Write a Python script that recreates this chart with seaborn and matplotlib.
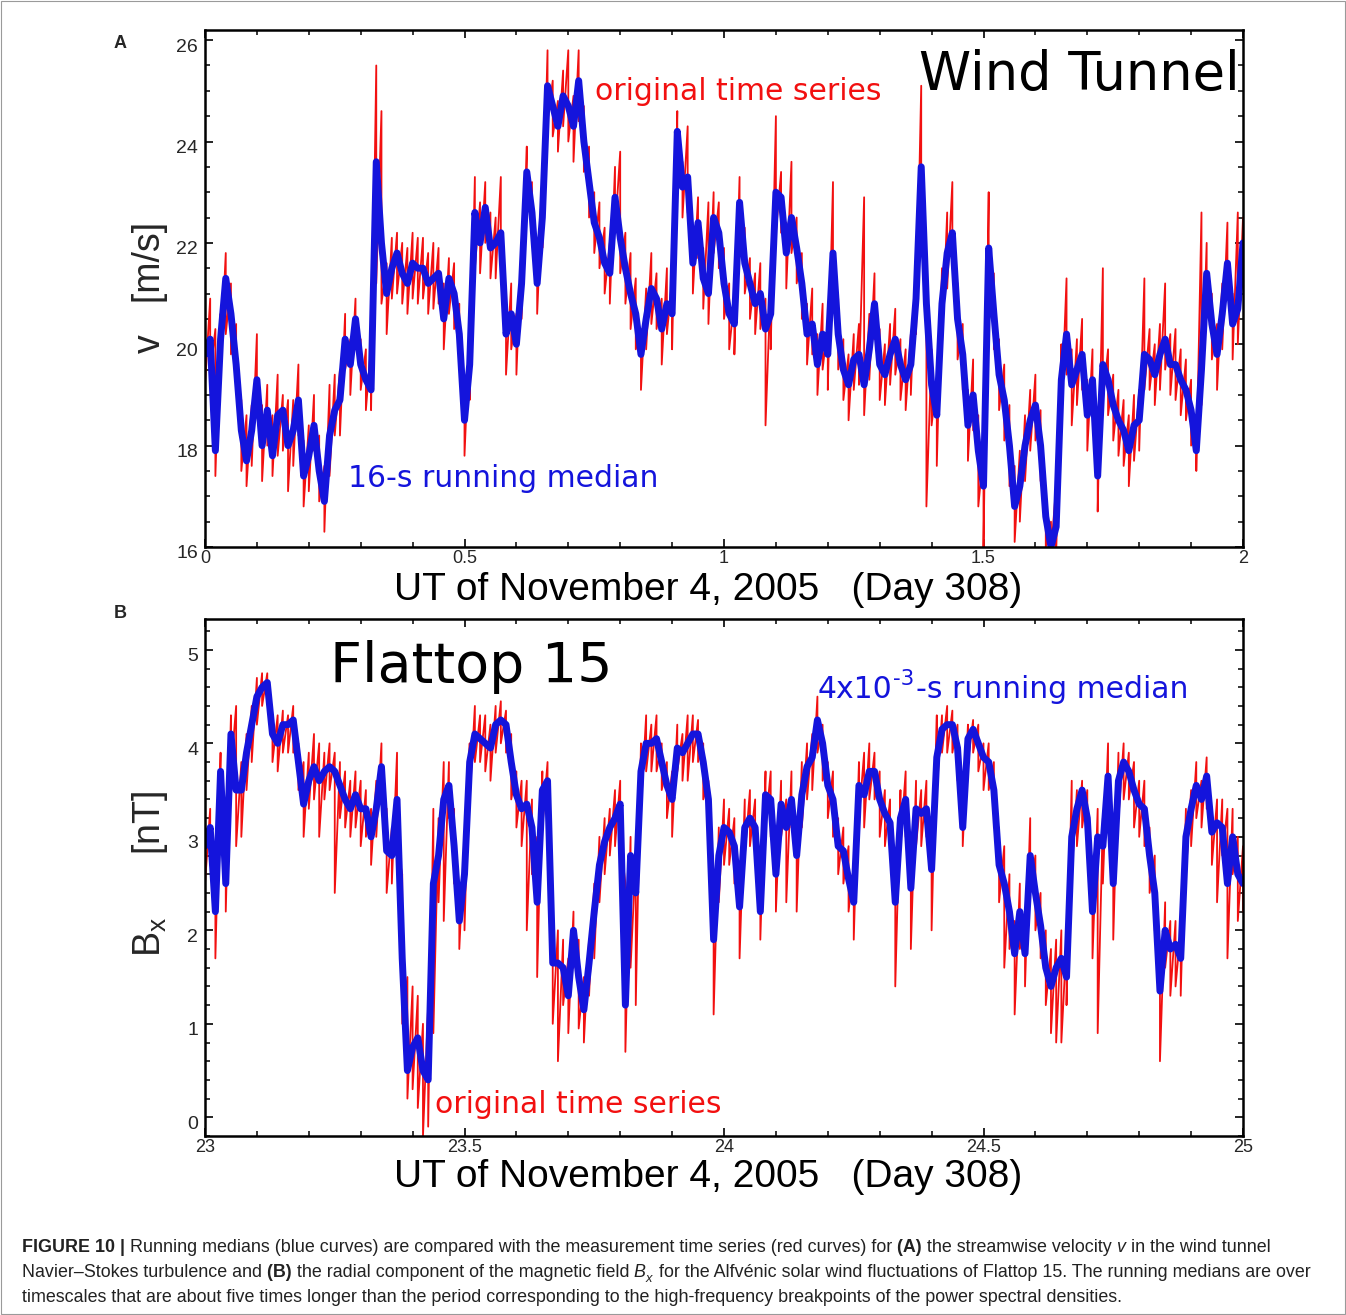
import numpy as np
import pandas as pd
import matplotlib
matplotlib.use("Agg")
import matplotlib.pyplot as plt
import seaborn as sns
from matplotlib.ticker import MultipleLocator
from matplotlib import font_manager as fm
from matplotlib.patches import Rectangle
from matplotlib.transforms import ScaledTranslation

# ---------------------------------------------------------------- data
# Panel A : wind tunnel velocity v [m/s], UT 0 .. 2, sampled every 0.01
A_T0, A_T1 = 0.0, 2.0
a_median = [19.8,20.1,17.9,20.1,21.3,20.6,19.6,18.3,17.7,18.3,
            19.3,18.0,18.7,17.8,18.6,18.7,18.0,18.3,18.9,17.4,
            17.8,18.4,17.5,16.9,18.2,18.7,18.9,20.1,19.6,20.5,
            19.6,19.3,19.1,23.6,22.0,21.0,21.5,21.8,21.4,21.2,
            21.6,21.5,21.5,21.2,21.3,21.4,20.5,21.3,21.0,20.2,
            18.5,19.6,22.6,22.0,22.7,21.9,22.0,22.2,20.2,20.6,
            20.0,21.2,23.4,22.6,21.2,22.5,25.1,24.7,24.3,24.9,
            24.7,24.3,25.2,24.0,23.2,22.4,22.1,21.6,21.4,22.9,
            22.1,21.5,21.0,20.6,19.8,20.5,21.1,20.9,20.3,20.8,
            20.6,24.2,23.1,23.3,21.6,22.4,21.3,21.0,22.5,22.2,
            21.2,20.6,20.4,22.8,21.6,21.2,20.8,21.0,20.3,20.6,
            23.0,22.9,21.8,22.5,21.9,21.2,20.2,20.4,19.6,20.2,
            19.8,21.8,20.2,19.5,19.2,19.7,19.8,19.2,19.9,20.8,
            19.6,19.4,19.8,20.1,19.6,19.3,19.6,20.9,23.5,20.8,
            19.2,18.6,20.8,21.8,22.2,20.5,19.8,18.4,19.0,17.9,
            17.2,21.9,20.6,19.4,18.9,18.0,16.8,17.2,18.0,18.5,
            18.8,18.0,16.6,16.0,16.4,19.3,20.2,19.2,19.5,19.8,
            18.6,19.3,17.4,19.6,19.3,18.8,18.5,18.3,17.9,18.4,
            18.5,19.8,19.7,19.4,19.8,20.1,19.6,19.6,19.3,19.1,
            18.7,17.9,19.5,21.4,20.4,19.8,20.6,21.6,20.4,20.7,
            22.0]
a_high = [20.5,20.9,20.3,20.6,21.8,21.2,20.4,18.9,18.6,18.8,
          20.2,18.8,19.2,18.6,19.4,19.0,18.9,18.9,19.6,18.1,
          18.4,19.0,18.2,17.6,19.2,19.4,19.5,20.6,20.1,20.9,
          20.1,19.9,20.0,25.5,24.6,21.6,22.1,22.2,22.0,21.9,
          22.2,22.1,22.1,21.8,22.0,21.9,21.2,21.7,21.6,20.8,
          19.2,20.3,23.3,22.8,23.2,22.6,22.5,23.3,20.9,21.2,
          20.6,22.0,23.9,23.2,21.9,23.0,25.8,25.2,24.8,25.4,
          25.8,24.9,25.8,24.7,23.9,23.0,22.8,22.3,22.0,23.5,
          23.8,22.2,21.8,21.3,20.3,21.1,21.8,21.4,20.9,21.5,
          21.3,24.6,23.6,24.3,22.2,22.9,21.9,22.8,23.0,22.8,
          21.9,21.2,20.9,23.3,22.3,21.7,21.4,21.6,20.9,21.2,
          24.5,23.4,22.4,23.6,22.5,21.8,20.8,21.1,20.2,20.8,
          20.4,23.2,20.9,20.1,19.8,20.2,20.4,22.9,20.6,21.4,
          20.3,20.0,20.4,20.7,20.1,19.9,20.2,21.6,25.1,21.6,
          19.9,19.3,21.5,22.6,23.2,21.2,20.4,19.1,19.7,18.6,
          17.9,23.0,21.4,20.1,19.6,18.8,17.6,17.9,18.6,19.1,
          19.4,18.7,17.2,16.5,17.2,20.0,21.3,19.9,20.1,20.5,
          19.3,19.9,18.1,21.5,19.9,19.4,19.1,18.9,18.6,19.0,
          19.1,21.3,20.3,20.0,20.4,21.2,20.2,20.3,19.9,19.7,
          19.3,18.5,22.6,22.0,21.0,20.4,21.2,22.4,21.0,22.6,
          22.5]
a_low = [19.2,19.4,17.4,19.6,20.2,19.8,19.1,17.5,17.2,17.6,
         18.6,17.3,18.0,17.4,17.8,17.9,17.1,17.6,18.2,16.8,
         17.1,17.9,16.9,16.3,17.4,18.2,18.2,19.5,19.0,19.9,
         19.1,18.7,18.7,21.2,20.8,20.2,20.9,21.0,20.8,20.6,
         20.9,20.8,20.9,20.6,20.7,20.8,19.9,20.6,20.3,19.6,
         17.8,18.9,21.5,21.4,22.0,21.3,21.3,21.6,19.4,19.9,
         19.4,20.5,22.8,22.0,20.6,21.9,24.4,24.1,23.8,24.3,
         24.0,23.6,24.4,23.4,22.5,21.8,21.5,21.0,20.8,22.2,
         21.4,20.8,20.3,19.9,19.1,19.9,20.4,20.3,19.6,20.2,
         19.9,23.3,22.5,22.6,21.0,21.7,20.7,20.4,21.8,21.5,
         20.5,19.9,19.8,22.0,21.0,20.5,20.2,20.3,18.4,19.9,
         22.2,22.2,21.1,21.8,21.2,20.5,19.6,19.8,19.0,19.5,
         19.1,21.0,19.5,18.9,18.5,19.1,19.2,18.6,19.3,20.1,
         18.9,18.8,19.2,19.4,18.9,18.7,19.0,20.2,21.8,16.8,
         18.4,17.6,20.0,21.1,21.5,19.7,19.1,17.7,18.3,16.8,
         16.0,21.0,19.9,18.7,18.1,17.2,16.1,16.5,17.3,17.9,
         18.1,17.3,16.0,15.9,15.9,18.6,19.4,18.4,18.8,19.1,
         17.9,18.6,16.7,18.9,18.6,18.1,17.8,17.6,17.2,17.7,
         17.9,19.1,19.1,18.8,19.1,19.5,19.0,18.9,18.6,18.5,
         18.0,17.5,18.8,20.7,19.7,19.1,19.9,20.9,19.7,20.0,
         21.3]

# Panel B : Flattop 15 radial field Bx [nT], UT 23 .. 25, sampled every 0.01
B_T0, B_T1 = 23.0, 25.0
b_median = [2.9,3.1,2.2,3.7,2.5,4.1,3.5,3.5,3.9,4.2,
            4.5,4.6,4.65,4.1,4.0,4.2,4.2,4.25,3.8,3.35,
            3.6,3.75,3.6,3.7,3.75,3.7,3.55,3.4,3.3,3.45,
            3.3,3.3,3.0,3.3,3.75,2.85,2.8,3.4,1.7,0.5,
            0.75,0.85,0.5,0.4,2.5,2.8,3.4,3.55,2.9,2.1,
            2.6,3.8,4.1,4.05,4.0,3.95,4.2,4.25,4.2,3.8,
            3.45,3.3,3.35,3.1,2.3,3.5,3.6,1.65,1.65,1.6,
            1.3,2.0,1.5,1.15,1.65,2.2,2.7,2.95,3.1,3.2,
            3.35,1.2,2.8,2.4,3.7,4.0,4.0,4.05,3.8,3.55,
            3.4,3.95,3.9,4.0,4.1,4.1,3.8,3.4,1.9,2.8,
            3.1,3.05,2.9,2.25,3.1,3.2,3.1,2.2,3.45,3.4,
            2.6,3.35,3.1,3.4,2.8,3.45,3.75,3.85,4.25,4.0,
            3.55,3.4,2.9,2.85,2.55,2.3,3.55,3.45,3.7,3.7,
            3.4,3.25,3.15,2.3,3.2,3.4,2.45,3.3,3.25,3.3,
            2.65,3.85,4.15,4.2,4.2,3.95,3.1,4.05,4.15,4.0,
            3.85,3.8,3.5,2.7,2.5,2.2,1.75,2.2,1.75,2.8,
            2.4,2.05,1.6,1.4,1.6,1.7,1.5,3.0,3.3,3.5,
            3.2,2.2,3.0,2.9,3.65,2.5,3.6,3.8,3.7,3.5,
            3.35,3.3,2.8,2.4,1.35,2.0,1.8,1.85,1.7,3.0,
            3.3,3.55,3.4,3.65,3.05,3.15,3.1,2.5,3.0,2.6,
            2.5]
b_high = [3.2,3.3,2.6,3.9,3.0,4.3,4.4,3.8,4.1,4.4,
          4.7,4.75,4.75,4.3,4.3,4.35,4.3,4.4,4.0,3.8,
          3.9,4.1,4.0,3.9,4.0,3.9,3.8,3.7,3.6,3.7,
          3.6,3.5,3.3,3.6,4.0,3.3,3.1,3.9,2.6,1.5,
          1.4,1.3,1.0,1.2,3.3,3.2,3.8,3.8,3.3,2.5,
          3.0,4.0,4.4,4.3,4.3,4.2,4.4,4.45,4.35,4.1,
          3.7,3.6,3.6,3.4,3.0,3.7,3.8,2.1,2.0,1.9,
          1.7,2.2,1.9,1.5,1.9,2.5,3.0,3.2,3.3,3.5,
          3.6,2.5,3.0,2.8,4.0,4.3,4.2,4.3,4.0,3.8,
          3.7,4.2,4.1,4.3,4.3,4.25,4.0,3.6,2.6,3.1,
          3.4,3.3,3.2,2.7,3.4,3.5,3.4,2.7,3.7,3.7,
          3.0,3.6,3.4,3.7,3.2,3.8,4.0,4.1,4.5,4.2,
          3.8,3.7,3.2,3.1,2.9,2.7,3.8,3.9,4.0,3.9,
          3.7,3.5,3.4,2.8,3.5,3.7,2.9,3.6,3.5,3.6,
          3.1,4.3,4.3,4.4,4.35,4.2,3.6,4.2,4.25,4.2,
          4.0,4.0,3.8,3.1,2.9,2.6,2.1,2.5,2.1,3.2,
          2.8,2.4,2.0,1.8,1.9,2.0,1.9,3.6,3.5,3.6,
          3.5,2.7,3.3,3.2,4.0,2.9,3.9,4.0,3.9,3.8,
          3.6,3.6,3.1,2.8,1.8,2.3,2.1,2.1,2.0,3.3,
          3.5,3.8,3.6,3.85,3.3,3.4,3.4,3.3,3.3,3.0,
          2.9]
b_low = [2.5,2.7,1.7,3.4,2.2,3.7,2.9,3.0,3.5,3.8,
         4.2,4.4,4.5,3.8,3.7,3.9,3.9,3.9,3.5,3.0,
         3.3,3.4,3.0,3.4,3.5,2.4,3.2,3.1,3.0,3.1,
         2.9,3.0,2.7,3.0,3.4,2.4,2.5,2.9,1.0,0.2,
         0.3,0.1,-0.2,-0.1,0.9,2.3,2.1,3.2,2.5,1.8,
         2.0,3.4,3.8,3.8,3.7,3.6,3.9,4.0,3.9,3.4,
         3.1,2.9,2.0,2.6,1.5,3.1,3.2,1.0,0.6,1.2,
         0.9,1.6,0.95,0.8,1.3,1.7,2.3,2.6,2.8,2.9,
         3.0,0.7,1.6,1.2,3.3,3.7,3.7,3.7,3.5,3.2,
         3.0,3.7,3.6,3.6,3.8,3.8,3.4,2.9,1.1,2.3,
         2.7,2.7,2.5,1.7,2.8,2.9,2.7,1.9,3.1,3.0,
         2.2,3.0,2.3,3.1,2.2,3.1,3.4,3.5,3.9,3.6,
         3.2,3.0,2.6,2.5,2.2,1.9,3.2,3.1,3.4,3.4,
         3.0,2.9,2.8,1.4,2.9,3.0,1.8,2.9,2.9,3.0,
         2.0,3.5,3.9,3.9,3.9,3.6,2.9,3.8,3.9,3.7,
         3.5,3.5,3.1,2.3,1.6,1.8,1.1,1.8,1.4,2.4,
         2.0,1.7,1.2,0.9,0.8,0.8,1.2,2.6,2.9,3.1,
         2.8,1.7,0.9,2.5,3.3,1.9,3.2,3.4,3.4,3.1,
         3.0,2.9,2.4,2.0,0.6,1.6,1.3,1.4,1.3,2.6,
         2.9,3.2,3.1,3.3,2.7,2.3,2.8,1.7,2.6,2.1,
         2.2]

a_xticks = [0, 0.5, 1, 1.5, 2]
a_xticklabels = ["0", "0.5", "1", "1.5", "2"]
a_yticks = [16, 18, 20, 22, 24, 26]
b_xticks = [23, 23.5, 24, 24.5, 25]
b_xticklabels = ["23", "23.5", "24", "24.5", "25"]
b_yticks = [0, 1, 2, 3, 4, 5]

x_label = "UT of November 4, 2005   (Day 308)"
a_ylabel = "v   [m/s]"
b_ylabel = r"B$_\mathregular{x}$      [nT]"

# (text, weight, style, shift) : shift -1 subscript, +1 superscript
caption_lines = [
    [("FIGURE 10 |", "bold", "normal", 0),
     (" Running medians (blue curves) are compared with the measurement time series (red curves) for", "normal", "normal", 0),
     (" (A)", "bold", "normal", 0),
     (" the streamwise velocity", "normal", "normal", 0),
     (" v", "normal", "italic", 0),
     (" in the wind tunnel", "normal", "normal", 0)],
    [("Navier\u2013Stokes turbulence and", "normal", "normal", 0),
     (" (B)", "bold", "normal", 0),
     (" the radial component of the magnetic field", "normal", "normal", 0),
     (" B", "normal", "italic", 0),
     ("x", "normal", "italic", -1),
     (" for the Alfv\u00e9nic solar wind fluctuations of Flattop 15. The running medians are over", "normal", "normal", 0)],
    [("timescales that are about five times longer than the period corresponding to the high-frequency breakpoints of the power spectral densities.", "normal", "normal", 0)],
]
median_b_label = [("4x10", "normal", "normal", 0), ("-3", "normal", "normal", 1),
                  ("-s running median", "normal", "normal", 0)]

# ---------------------------------------------------------------- style
RED = "#f21010"
BLUE = "#1414dc"
W, H = 1346, 1315

sns.set_theme(style="white")
plt.rcParams['font.family'] = ['Liberation Sans', 'DejaVu Sans']
plt.rcParams['mathtext.fontset'] = 'dejavusans'


def has_font(name):
    try:
        fm.findfont(fm.FontProperties(family=name), fallback_to_default=False)
        return True
    except Exception:
        return False


CAP_FAMILY = 'Liberation Sans Narrow' if has_font('Liberation Sans Narrow') else 'Liberation Sans'
LABEL_FAMILY = ['Liberation Sans', 'DejaVu Sans']
ANNOT_FAMILY = ['DejaVu Sans']

fig = plt.figure(figsize=(W / 100, H / 100), dpi=100)
fig.patch.set_facecolor("white")
renderer = fig.canvas.get_renderer()


def px_box(left, top, right, bottom):
    return [left / W, 1 - bottom / H, (right - left) / W, (bottom - top) / H]


def frames(t0, t1, med, hi, lo):
    t = np.linspace(t0, t1, len(med))
    dmed = pd.DataFrame({"t": t, "v": med})
    tz = np.repeat(t, 2)
    vz = np.column_stack([hi, lo]).ravel()
    dred = pd.DataFrame({"t": tz, "v": vz})
    return dmed, dred


def style_axes(ax, xticks, xlabels, yticks, xminor, yminor):
    ax.set_xticks(xticks)
    ax.set_xticklabels(xlabels)
    ax.set_yticks(yticks)
    ax.xaxis.set_minor_locator(MultipleLocator(xminor))
    ax.yaxis.set_minor_locator(MultipleLocator(yminor))
    ax.tick_params(which="both", direction="in", top=True, right=True,
                   bottom=True, left=True, color="black")
    ax.tick_params(which="major", length=6, width=1.2)
    ax.tick_params(which="minor", length=3.5, width=1.1)
    ax.tick_params(axis="y", which="major", labelsize=14, pad=5)
    ax.tick_params(axis="x", which="major", labelsize=13, pad=2)
    for lab in ax.get_xticklabels() + ax.get_yticklabels():
        lab.set_family(LABEL_FAMILY)
    # the reference prints the y numbers a few pixels below their ticks
    shift = ScaledTranslation(0, -5 / 100, fig.dpi_scale_trans)
    for lab in ax.get_yticklabels():
        lab.set_transform(lab.get_transform() + shift)
    for s in ax.spines.values():
        s.set_visible(True)
        s.set_color("black")
        s.set_linewidth(1.8)
    ax.set_xlabel("")
    ax.set_ylabel("")
    ax.grid(False)


def draw_rich(pieces, x0, yb, size, family, color):
    """Write text pieces one after the other on a baseline (figure pixels)."""
    x = x0
    arts = []
    for item in pieces:
        txt, weight, style, shift = item[:4]
        col = item[4] if len(item) > 4 else color
        fs = size * 0.72 if shift else size
        dy = 0.0
        if shift < 0:
            dy = size * 0.35
        elif shift > 0:
            dy = -size * 0.62
        t = fig.text(x / W, 1 - (yb + dy) / H, txt, fontsize=fs, fontweight=weight,
                     fontstyle=style, family=family, ha="left", va="baseline",
                     color=col)
        bb = t.get_window_extent(renderer=renderer)
        x += bb.width + (1.5 if shift else 0.0)
        arts.append(t)
    return arts, x - x0


# ---------------------------------------------------------------- panel A
axA = fig.add_axes(px_box(205, 30, 1243, 547))
dmed, dred = frames(A_T0, A_T1, a_median, a_high, a_low)
sns.lineplot(data=dred, x="t", y="v", estimator=None, sort=False, color=RED,
             lw=1.3, ax=axA)
sns.lineplot(data=dmed, x="t", y="v", estimator=None, sort=False, color=BLUE,
             lw=5.0, ax=axA)
axA.set_xlim(A_T0, A_T1)
axA.set_ylim(16, 26.2)
style_axes(axA, a_xticks, a_xticklabels, a_yticks, 0.1, 0.5)
axA.text(0.3757, 0.8646, "original time series", transform=axA.transAxes,
         color=RED, fontsize=21.5, family=ANNOT_FAMILY, ha="left", va="baseline")
axA.text(0.997, 0.884, "Wind Tunnel", transform=axA.transAxes,
         color="black", fontsize=38, family=ANNOT_FAMILY, ha="right", va="baseline")
axA.text(0.1378, 0.1167, "16-s running median", transform=axA.transAxes,
         color=BLUE, fontsize=21.5, family=ANNOT_FAMILY, ha="left", va="baseline")

# ---------------------------------------------------------------- panel B
axB = fig.add_axes(px_box(205, 619, 1243, 1136))
dmed, dred = frames(B_T0, B_T1, b_median, b_high, b_low)
sns.lineplot(data=dred, x="t", y="v", estimator=None, sort=False, color=RED,
             lw=1.3, ax=axB)
sns.lineplot(data=dmed, x="t", y="v", estimator=None, sort=False, color=BLUE,
             lw=5.0, ax=axB)
axB.set_xlim(B_T0, B_T1)
axB.set_ylim(-0.2, 5.33)
style_axes(axB, b_xticks, b_xticklabels, b_yticks, 0.1, 0.2)
axB.text(0.1204, 0.8787, "Flattop 15", transform=axB.transAxes,
         color="black", fontsize=40, family=ANNOT_FAMILY, ha="left", va="baseline")
draw_rich(median_b_label, 818, 698, 21.5, ANNOT_FAMILY, BLUE)
axB.text(0.2216, 0.0445, "original time series", transform=axB.transAxes,
         color=RED, fontsize=21.5, family=ANNOT_FAMILY, ha="left", va="baseline")

# ---------------------------------------------------------------- labels
for yb in (600, 1187):
    fig.text(708.5 / W, 1 - yb / H, x_label, fontsize=28, family=LABEL_FAMILY,
             ha="center", va="baseline", color="black")
fig.text(150 / W, 1 - 287 / H, a_ylabel, rotation=90, fontsize=27,
         family=LABEL_FAMILY, ha="center", va="center")
fig.text(150 / W, 1 - 874 / H, b_ylabel, rotation=90, fontsize=27,
         family=LABEL_FAMILY, ha="center", va="center")
fig.text(120 / W, 1 - 43 / H, "A", fontsize=13, fontweight="bold",
         family=LABEL_FAMILY, ha="center", va="center")
fig.text(120 / W, 1 - 613 / H, "B", fontsize=13, fontweight="bold",
         family=LABEL_FAMILY, ha="center", va="center")

# ---------------------------------------------------------------- caption
test_size = 12.0
arts, w2 = draw_rich(caption_lines[1], 22, 1277, test_size, CAP_FAMILY, "#222222")
for a in arts:
    a.remove()
cap_size = test_size * 1294.0 / w2
for pieces, yb in zip(caption_lines, (1252, 1277, 1302)):
    draw_rich(pieces, 22, yb, cap_size, CAP_FAMILY, "#222222")

# outer frame of the figure
fig.patches.append(Rectangle((1 / W, 1 / H), 1 - 2 / W, 1 - 2 / H, transform=fig.transFigure,
                             fill=False, edgecolor="#9a9a9a", linewidth=0.8))

fig.savefig("out.png", dpi=100, facecolor="white")
